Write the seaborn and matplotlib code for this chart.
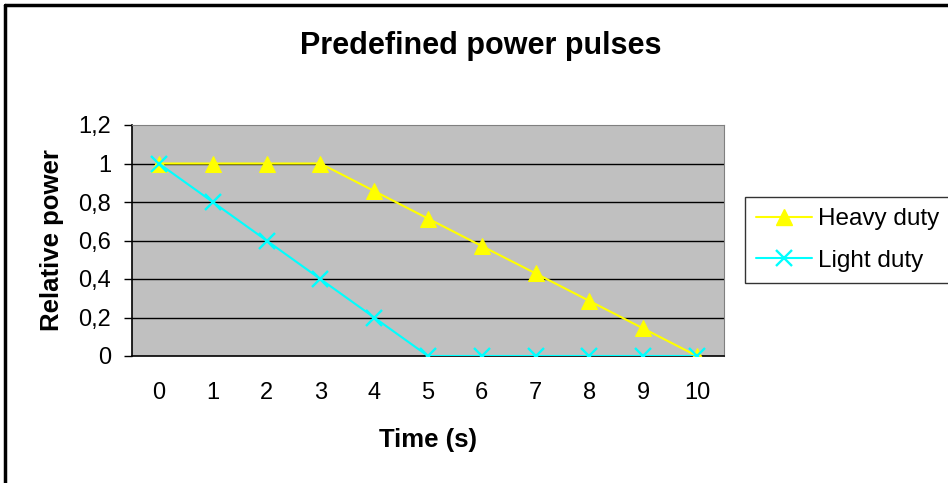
import matplotlib
matplotlib.use("Agg")
import matplotlib.pyplot as plt
from matplotlib.lines import Line2D
import numpy as np
import pandas as pd
import seaborn as sns

# ==================== DATA ====================
time_s = [0, 1, 2, 3, 4, 5, 6, 7, 8, 9, 10]
heavy_duty = [1.0, 1.0, 1.0, 1.0, 0.857, 0.714, 0.571, 0.429, 0.286, 0.143, 0.0]
light_duty = [1.0, 0.8, 0.6, 0.4, 0.2, 0.0, 0.0, 0.0, 0.0, 0.0, 0.0]
y_ticks = [0, 0.2, 0.4, 0.6, 0.8, 1.0, 1.2]
y_labels = ["0", "0,2", "0,4", "0,6", "0,8", "1", "1,2"]

df = pd.DataFrame({"time": time_s, "Heavy duty": heavy_duty, "Light duty": light_duty})

sns.set_style("white")
plt.rcParams["font.family"] = ["Liberation Sans", "DejaVu Sans"]
plt.rcParams["text.color"] = "black"
plt.rcParams["axes.labelcolor"] = "black"
plt.rcParams["xtick.color"] = "black"
plt.rcParams["ytick.color"] = "black"

fig = plt.figure(figsize=(9.48, 4.83), dpi=100)
ax = fig.add_axes([132 / 948, 1 - 356 / 483, 592 / 948, 231 / 483])

# Excel-style plot area
ax.set_facecolor("#C0C0C0")
for y in y_ticks[1:-1]:
    ax.axhline(y, color="#000000", lw=1.0, zorder=1)

sns.lineplot(data=df, x="time", y="Heavy duty", ax=ax, color="#FFFF00", lw=1.5,
             marker="^", markersize=11, markeredgecolor="#FFFF00", zorder=3)
sns.lineplot(data=df, x="time", y="Light duty", ax=ax, color="#00FFFF", lw=1.5,
             marker="x", markersize=11, markeredgewidth=1.7, markeredgecolor="#00FFFF", zorder=4)

ax.set_xlim(-0.5, 10.5)
ax.set_ylim(0, 1.2)
ax.set_xticks(time_s)
ax.set_xticklabels([str(t) for t in time_s], fontsize=17)
ax.set_xticks(np.arange(-0.5, 11, 1), minor=True)
ax.tick_params(axis="x", which="major", length=0, pad=19)
ax.tick_params(axis="x", which="minor", length=7, width=1, color="black", direction="out")
ax.set_yticks(y_ticks)
ax.set_yticklabels(y_labels, fontsize=17)
ax.tick_params(axis="y", length=6, width=1, color="black", direction="out", pad=9)
ax.tick_params(bottom=True, left=True)

ax.spines["left"].set_color("black")
ax.spines["bottom"].set_color("black")
ax.spines["left"].set_linewidth(1.2)
ax.spines["bottom"].set_linewidth(1.2)
ax.spines["top"].set_color("#808080")
ax.spines["right"].set_color("#808080")

ax.set_xlabel("Time (s)", fontsize=18.5, fontweight="bold", labelpad=17)
ax.set_ylabel("Relative power", fontsize=18.5, fontweight="bold", labelpad=10)

fig.text(0.507, 0.905, "Predefined power pulses", ha="center", va="center",
         fontsize=22, fontweight="bold")

handles = [
    Line2D([], [], color="#FFFF00", lw=1.5, marker="^", markersize=11),
    Line2D([], [], color="#00FFFF", lw=1.5, marker="x", markersize=11, markeredgewidth=1.7),
]
leg = fig.legend(handles, ["Heavy duty", "Light duty"], loc="center left",
                 bbox_to_anchor=(745 / 948, 1 - 240 / 483), fontsize=17.5,
                 frameon=True, fancybox=False, handlelength=2.3, handletextpad=0.25,
                 borderpad=0.45, labelspacing=0.8, borderaxespad=0)
leg.get_frame().set_edgecolor("black")
leg.get_frame().set_linewidth(1.0)

# outer chart frame (only top and left visible in the reference)
fig.add_artist(Line2D([5 / 948, 5 / 948], [0, 1 - 5 / 483], color="black", lw=2.5,
                      transform=fig.transFigure))
fig.add_artist(Line2D([5 / 948, 1], [1 - 5 / 483, 1 - 5 / 483], color="black", lw=2.5,
                      transform=fig.transFigure))

fig.savefig("out.png", dpi=100)
